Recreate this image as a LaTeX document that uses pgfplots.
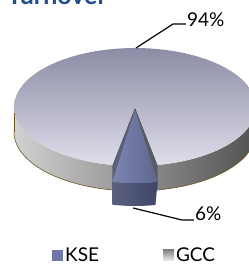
\documentclass[border=0pt]{standalone}
\usepackage{pgfplots}
\pgfplotsset{compat=1.18}
\usepackage{pgfplotstable}
\usepackage{fontspec}
\setmainfont{Lato}

\definecolor{ttl}{HTML}{1F4E8A}
\definecolor{kse}{HTML}{6E78A8}
\definecolor{ksedark}{HTML}{3F4568}
\definecolor{edge}{HTML}{6B5520}

\pgfplotstableread{
label value
KSE 6
GCC 94
}\shares

\begin{document}
\begin{tikzpicture}
\useasboundingbox (0,0) rectangle (249pt,266pt);
\clip (0,0) rectangle (249pt,266pt);
\begin{axis}[width=249pt,height=266pt,scale only axis,
  xmin=0,xmax=249,ymin=0,ymax=266,hide axis,clip=false,
  legend style={at={(axis cs:52,11)},anchor=west,draw=none,fill=none,
    legend columns=2,inner sep=0pt,font=\fontsize{19}{22}\selectfont,
    /tikz/every even column/.append style={column sep=62pt}},
  legend image code/.code={\fill[draw=none,#1] (0pt,-5.5pt) rectangle (11pt,5.5pt);},
  samples=80]
% GCC side band
\addplot[forget plot,left color=black!18,middle color=black!38,right color=black!68,draw=none,domain=180:540,samples=181]
  ({135+121*cos(x)},{(x<=360) ? (159+59*sin(x)) : (134-59*sin(x))}) -- cycle;
\addplot[forget plot,draw=edge,line width=0.6pt,domain=180:360] ({135+121*cos(x)},{134+59*sin(x)});
\addplot[forget plot,draw=edge,line width=0.6pt] coordinates {(14,159) (14,134)};
% GCC cut walls
\addplot[forget plot,fill={rgb,255:red,92;green,95;blue,120},draw=none] coordinates {(135,159) (112.3,101) (112.3,76) (135,134)} -- cycle;
\addplot[forget plot,fill={rgb,255:red,90;green,90;blue,98},draw=none] coordinates {(135,159) (157.7,101) (157.7,76) (135,134)} -- cycle;
% GCC top face (94%)
\addplot[forget plot,top color={rgb,255:red,140;green,140;blue,166},middle color={rgb,255:red,196;green,196;blue,214},bottom color={rgb,255:red,222;green,222;blue,234},draw=none,domain=280.8:619.2] ({135+121*cos(x)},{159+59*sin(x)}) -- (axis cs:135,159) -- cycle;
% KSE slice (6%) front
\addplot[forget plot,left color=ksedark!85!white,right color=ksedark,draw=none,domain=259.2:302.4,samples=41]
  ({135+121*cos((x<=280.8) ? x : (561.6-x))},{(x<=280.8) ? (156+73*sin(x)) : (133+73*sin(561.6-x))}) -- cycle;
% KSE top face
\addplot[forget plot,left color=kse!90!white,right color=kse!85!black,draw=none,domain=259.2:280.8] ({135+121*cos(x)},{156+73*sin(x)}) -- (axis cs:135,156) -- cycle;
% leader lines
\addplot[forget plot,black,line width=1.2pt] coordinates {(136,218) (173,242) (186,242)};
\addplot[forget plot,black,line width=1.2pt] coordinates {(133,58) (182,46) (194,46)};
\node[anchor=west,inner sep=0pt,font=\fontsize{19}{22}\selectfont] at (axis cs:187,246) {94\%};
\node[anchor=west,inner sep=0pt,font=\fontsize{19}{22}\selectfont] at (axis cs:195,52) {6\%};
\node[anchor=base west,inner sep=0pt,font=\fontsize{25}{30}\selectfont\bfseries,text=ttl] at (axis cs:7,261.5) {Turnover};
% legend
\addlegendimage{fill=kse}
\addlegendentry{KSE}
\addlegendimage{top color=black!50,bottom color=black!8}
\addlegendentry{GCC}
\end{axis}
\end{tikzpicture}
\end{document}
